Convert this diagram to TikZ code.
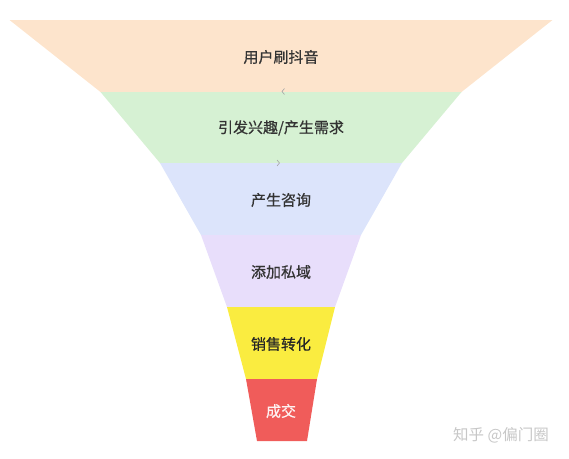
\documentclass[tikz,border=0pt]{standalone}
\usepackage{fontspec}
\setmainfont{Noto Sans CJK SC}
\newfontfamily\labelfont[FakeBold=0.6]{Noto Sans CJK SC}
\usetikzlibrary{positioning}
\definecolor{layerA}{RGB}{253,228,204}
\definecolor{layerB}{RGB}{214,241,211}
\definecolor{layerC}{RGB}{220,228,251}
\definecolor{layerD}{RGB}{232,222,251}
\definecolor{layerE}{RGB}{250,236,64}
\definecolor{layerF}{RGB}{240,92,90}
\colorlet{textC}{black!80}
\colorlet{chevC}{black!35}
\colorlet{markC}{black!22}

\begin{document}
\begin{tikzpicture}[x=1pt,y=-1pt]
\useasboundingbox (0,0) rectangle (569,458);
% funnel layers
\fill[layerA] (9.5,20) -- (552.5,20) -- (461.5,92) -- (100.5,92) -- cycle;
\fill[layerB] (100.5,92) -- (461.5,92) -- (402,163) -- (160,163) -- cycle;
\fill[layerC] (160,163) -- (402,163) -- (361,235) -- (201,235) -- cycle;
\fill[layerD] (201,235) -- (361,235) -- (335,307) -- (227,307) -- cycle;
\fill[layerE] (227,307) -- (335,307) -- (317,379) -- (246,379) -- cycle;
\fill[layerF] (246,379) -- (317,379) -- (307,441) -- (257,441) -- cycle;

\node[text=textC, font=\labelfont\fontsize{15}{18}\selectfont] (label1) at (281,57) {用户刷抖音};
\node[text=textC, font=\labelfont\fontsize{15}{18}\selectfont] (label2) at (281,128) {引发兴趣/产生需求};
\node[text=textC, font=\labelfont\fontsize{15}{18}\selectfont] (label3) at (281,200) {产生咨询};
\node[text=textC, font=\labelfont\fontsize{15}{18}\selectfont] (label4) at (281,272) {添加私域};
\node[text=black!85, font=\labelfont\fontsize{15}{18}\selectfont] (label5) at (281,344) {销售转化};
\node[text=white!92!layerF, font=\labelfont\fontsize{15}{18}\selectfont] (label6) at (281,411) {成交};

% small marks between layers
\draw[chevC, line width=0.6pt] (284.5,88.5) -- (282,91.5) -- (284.5,94.5);
\draw[chevC, line width=0.6pt] (277,160) -- (279.5,163) -- (277,166);

\node[text=markC, font=\fontsize{15.5}{18}\selectfont] (mark) at (501,435) {知乎 @偏门圈};
\end{tikzpicture}
\end{document}
